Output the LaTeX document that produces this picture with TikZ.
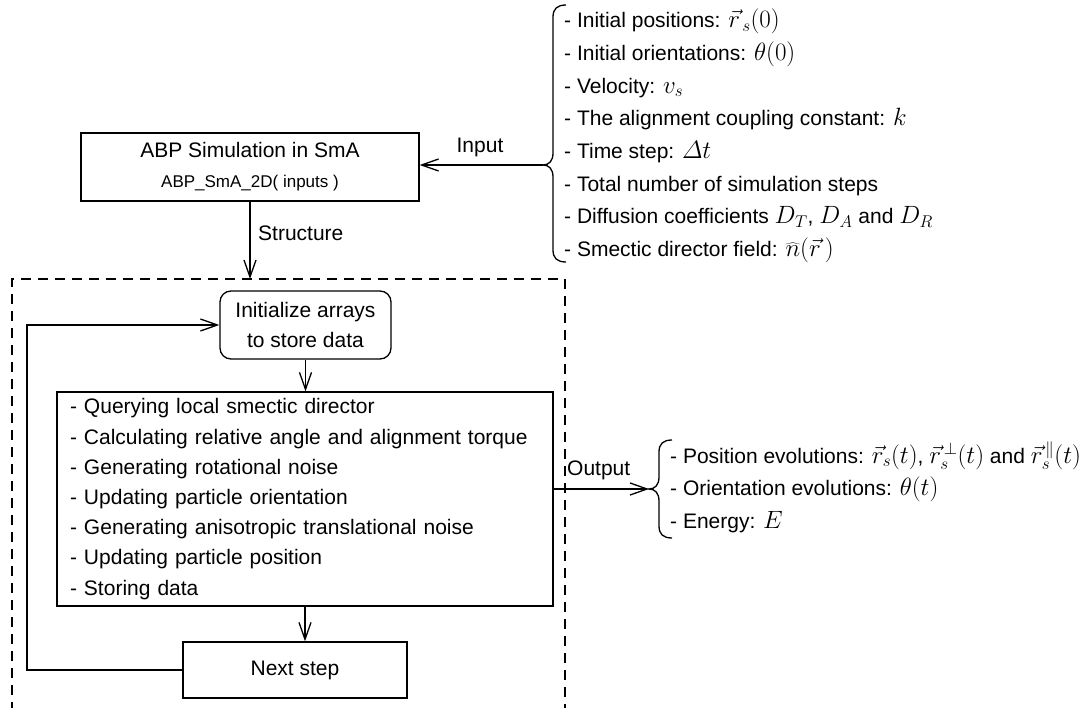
\RequirePackage{fix-cm}
\documentclass[tikz,border=0pt]{standalone}
\usepackage{fontspec}
\setmainfont{Liberation Sans}
\usetikzlibrary{arrows.meta}

% text sizes used throughout the flowchart
\newcommand{\mainsize}{\fontsize{21}{30.2}\selectfont}
\newcommand{\subsize}{\fontsize{17}{26}\selectfont}
% formulas are set somewhat larger than the surrounding text
\DeclareMathSizes{21}{25}{17}{13}

\begin{document}
\begin{tikzpicture}[x=1pt, y=-1pt,
  box/.style={draw, line width=1.3pt, inner sep=0pt, font=\mainsize, align=center},
  roundbox/.style={box, rounded corners=11pt},
  arr/.style={draw, line width=1.3pt, -{Straight Barb[length=17pt,width=12pt,line width=1.3pt]}},
  plain/.style={draw, line width=1.3pt},
  frame/.style={draw, line width=1.3pt, dash pattern=on 10pt off 7pt},
  lbl/.style={font=\mainsize, inner sep=0pt},
  itemlist/.style={font=\mainsize, inner sep=0pt, align=left, anchor=west}]
\useasboundingbox (0,0) rectangle (1086,708);

% ---- main simulation routine ----
\node[box, minimum width=338, minimum height=68] (abp) at (250,167)
  {\fontsize{21}{26}\selectfont ABP Simulation in SmA\\{\subsize ABP\_SmA\_2D( inputs )}};

% ---- list of inputs with its brace ----
\node[itemlist, font=\fontsize{21}{32.7}\selectfont] (inputs) at (564,136)
  {- Initial positions: $\vec{r}_{\,s}(0)$\\
   - Initial orientations: $\theta(0)$\\
   - Velocity: $v_s$\\
   - The alignment coupling constant: $k$\\
   - Time step: $\mathnormal{\Delta} t$\\
   - Total number of simulation steps\\
   - Diffusion coefficients $D_T$, $D_A$ and $D_R$\\
   - Smectic director field: $\widehat{n}(\vec{r}\,)$};
\coordinate (intip) at (543,165);
\draw[plain] (566,5) .. controls (557,5) and (553,9) .. (553,17) -- (553,153)
  .. controls (553,161) and (549,165) .. (intip)
  .. controls (549,165) and (553,169) .. (553,177) -- (553,250)
  .. controls (553,258) and (557,262) .. (566,262);
\draw[arr] (intip) -- (intip -| abp.east);
\node[lbl] (inlbl) at (480,147) {Input};

% ---- structure of the routine (dashed frame) ----
\coordinate (fbl) at (12,712);
\coordinate (ftl) at (12,279);
\coordinate (ftr) at (565,279);
\coordinate (fbr) at (565,712);
\draw[frame] (fbl) -- (ftl) -- (ftr) -- (fbr);
\draw[arr] (abp.south) -- (abp.south |- ftl);
\node[lbl, anchor=west] (structlbl) at (258,233) {Structure};

\node[roundbox, minimum width=171, minimum height=68,
      font=\fontsize{21}{30}\selectfont] (init) at (305.5,325)
  {Initialize arrays\\to store data};

\node[box, align=left, minimum width=496, minimum height=214, text width=470,
      inner xsep=13pt] (loop) at (305,499)
  {- Querying local smectic director\\
   - Calculating relative angle and alignment torque\\
   - Generating rotational noise\\
   - Updating particle orientation\\
   - Generating anisotropic translational noise\\
   - Updating particle position\\
   - Storing data};

\node[box, minimum width=224, minimum height=56] (nxt) at (295,670) {Next step};

\draw[arr] (init.south) -- (init.south |- loop.north);
\draw[arr] (loop.south) -- (loop.south |- nxt.north);
\coordinate (back) at (27,0);
\draw[arr] (nxt.west) -- (nxt.west -| back) -- (init.west -| back) -- (init.west);

% ---- outputs with their brace ----
\coordinate (outtip) at (649,489);
\draw[arr] (outtip -| loop.east) -- (outtip);
\node[lbl, anchor=west] (outlbl) at (567,470) {Output};
\draw[plain] (672,440) .. controls (663,440) and (659,444) .. (659,452) -- (659,477)
  .. controls (659,485) and (655,489) .. (outtip)
  .. controls (655,489) and (659,493) .. (659,501) -- (659,526)
  .. controls (659,534) and (663,538) .. (672,538);
\node[itemlist, font=\fontsize{21}{32.5}\selectfont] (outputs) at (670,487)
  {- Position evolutions: $\vec{r}_s(t)$, $\vec{r}_s^{\,\perp}(t)$ and $\vec{r}_s^{\,\parallel}(t)$\\
   - Orientation evolutions: $\theta(t)$\\
   - Energy: $E$};
\end{tikzpicture}
\end{document}
